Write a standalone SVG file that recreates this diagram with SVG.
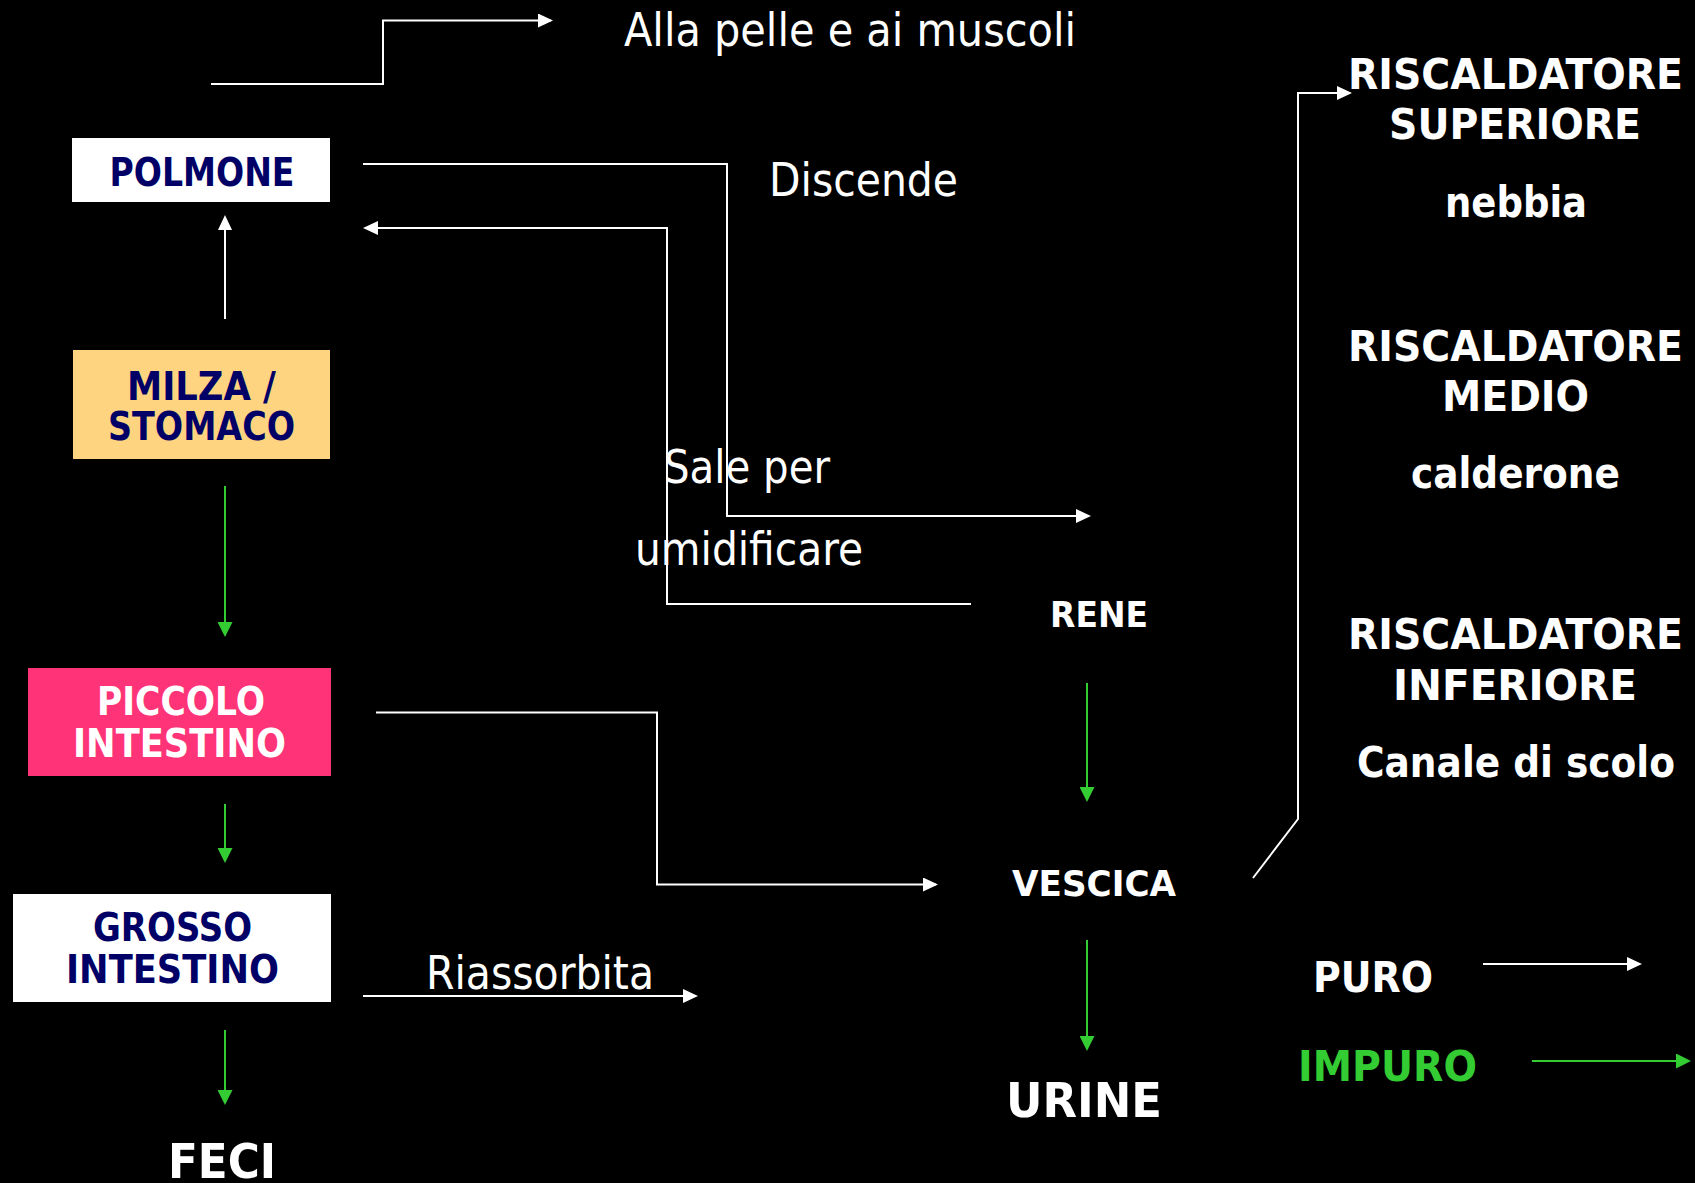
<svg xmlns="http://www.w3.org/2000/svg" width="1695" height="1183" viewBox="0 0 1695 1183">
<style>
text{font-family:"DejaVu Sans Condensed","DejaVu Sans",sans-serif}
.reg{font-size:47px;fill:#ffffff}
.b{font-weight:bold}
.box{font-size:39px;font-weight:bold;text-anchor:middle}
.navy{fill:#000066}
.wt{fill:#ffffff}
.gr{fill:#33cc33}
.rh{font-size:42px;font-weight:bold;fill:#ffffff;text-anchor:middle}
.lw{fill:none;stroke:#ffffff;stroke-width:2}
.lg{fill:none;stroke:#33cc33;stroke-width:2}
</style>
<defs>
<marker id="aw" markerUnits="userSpaceOnUse" viewBox="0 0 15 14" markerWidth="15" markerHeight="14" refX="13" refY="7" orient="auto"><path d="M0,0 L15,7 L0,14 z" fill="#ffffff"/></marker>
<marker id="ag" markerUnits="userSpaceOnUse" viewBox="0 0 15 15" markerWidth="15" markerHeight="15" refX="13" refY="7.5" orient="auto"><path d="M0,0 L15,7.5 L0,15 z" fill="#33cc33"/></marker>
</defs>
<rect width="1695" height="1183" fill="#000000"/>

<g id="connectors">
<path class="lw" d="M211,84 H383 V20.5 H551" marker-end="url(#aw)"/>
<path class="lw" d="M363,164 H727 V516 H1089" marker-end="url(#aw)"/>
<path class="lw" d="M971,604 H667 V228 H365" marker-end="url(#aw)"/>
<path class="lw" d="M225,319 V217" marker-end="url(#aw)"/>
<path class="lg" d="M225,486 V635" marker-end="url(#ag)"/>
<path class="lg" d="M225,804 V861" marker-end="url(#ag)"/>
<path class="lg" d="M225,1030 V1103" marker-end="url(#ag)"/>
<path class="lw" d="M376,712.5 H657 V884.5 H936" marker-end="url(#aw)"/>
<path class="lw" d="M363,996 H696" marker-end="url(#aw)"/>
<path class="lg" d="M1087,683 V800" marker-end="url(#ag)"/>
<path class="lg" d="M1087,940 V1049" marker-end="url(#ag)"/>
<path class="lw" d="M1253,878 L1298,819 V93 H1350" marker-end="url(#aw)"/>
<path class="lw" d="M1483,964 H1640" marker-end="url(#aw)"/>
<path class="lg" d="M1532,1061 H1689" marker-end="url(#ag)"/>
</g>

<g id="label-alla">
<text class="reg" x="624" y="46" textLength="452" lengthAdjust="spacingAndGlyphs">Alla pelle e ai muscoli</text>
</g>
<g id="label-discende">
<text class="reg" x="769" y="196" textLength="189" lengthAdjust="spacingAndGlyphs">Discende</text>
</g>
<g id="label-sale">
<text class="reg" x="664" y="483" textLength="166" lengthAdjust="spacingAndGlyphs">Sale per</text>
<text class="reg" x="635" y="565" textLength="228" lengthAdjust="spacingAndGlyphs">umidificare</text>
</g>
<g id="label-riassorbita">
<text class="reg" x="426" y="989" textLength="228" lengthAdjust="spacingAndGlyphs">Riassorbita</text>
</g>

<g id="polmone">
<rect x="72" y="138" width="258" height="64" fill="#ffffff"/>
<text class="box navy" x="202" y="186" textLength="185" lengthAdjust="spacingAndGlyphs">POLMONE</text>
</g>
<g id="milza-stomaco">
<rect x="73" y="350" width="257" height="109" fill="#ffd480"/>
<text class="box navy" x="201.5" y="400" textLength="149" lengthAdjust="spacingAndGlyphs">MILZA /</text>
<text class="box navy" x="201.5" y="440" textLength="187" lengthAdjust="spacingAndGlyphs">STOMACO</text>
</g>
<g id="piccolo-intestino">
<rect x="28" y="668" width="303" height="108" fill="#ff3377"/>
<text class="box wt" x="181" y="715" textLength="168" lengthAdjust="spacingAndGlyphs">PICCOLO</text>
<text class="box wt" x="179.5" y="757" textLength="213" lengthAdjust="spacingAndGlyphs">INTESTINO</text>
</g>
<g id="grosso-intestino">
<rect x="13" y="894" width="318" height="108" fill="#ffffff"/>
<text class="box navy" x="172.5" y="941" textLength="159" lengthAdjust="spacingAndGlyphs">GROSSO</text>
<text class="box navy" x="172.5" y="983" textLength="213" lengthAdjust="spacingAndGlyphs">INTESTINO</text>
</g>
<g id="feci">
<text class="b wt" x="168" y="1178" font-size="48" textLength="108" lengthAdjust="spacingAndGlyphs">FECI</text>
</g>

<g id="rene">
<text class="b wt" x="1050" y="627" font-size="35" textLength="98" lengthAdjust="spacingAndGlyphs">RENE</text>
</g>
<g id="vescica">
<text class="b wt" x="1012" y="896" font-size="36" textLength="164" lengthAdjust="spacingAndGlyphs">VESCICA</text>
</g>
<g id="urine">
<text class="b wt" x="1006" y="1117" font-size="48" textLength="156" lengthAdjust="spacingAndGlyphs">URINE</text>
</g>

<g id="riscaldatore-superiore">
<text class="rh" x="1515.5" y="89" textLength="335" lengthAdjust="spacingAndGlyphs">RISCALDATORE</text>
<text class="rh" x="1515" y="139" textLength="252" lengthAdjust="spacingAndGlyphs">SUPERIORE</text>
<text class="rh" x="1516" y="217" textLength="142" lengthAdjust="spacingAndGlyphs">nebbia</text>
</g>
<g id="riscaldatore-medio">
<text class="rh" x="1515.5" y="361" textLength="335" lengthAdjust="spacingAndGlyphs">RISCALDATORE</text>
<text class="rh" x="1515.5" y="411" textLength="147" lengthAdjust="spacingAndGlyphs">MEDIO</text>
<text class="rh" x="1515.5" y="488" textLength="209" lengthAdjust="spacingAndGlyphs">calderone</text>
</g>
<g id="riscaldatore-inferiore">
<text class="rh" x="1515.5" y="649" textLength="335" lengthAdjust="spacingAndGlyphs">RISCALDATORE</text>
<text class="rh" x="1515" y="700" textLength="244" lengthAdjust="spacingAndGlyphs">INFERIORE</text>
<text class="rh" x="1516" y="777" textLength="318" lengthAdjust="spacingAndGlyphs">Canale di scolo</text>
</g>
<g id="puro">
<text class="b wt" x="1313" y="992" font-size="43" textLength="120" lengthAdjust="spacingAndGlyphs">PURO</text>
</g>
<g id="impuro">
<text class="b gr" x="1298" y="1081" font-size="43" textLength="179" lengthAdjust="spacingAndGlyphs">IMPURO</text>
</g>
</svg>
